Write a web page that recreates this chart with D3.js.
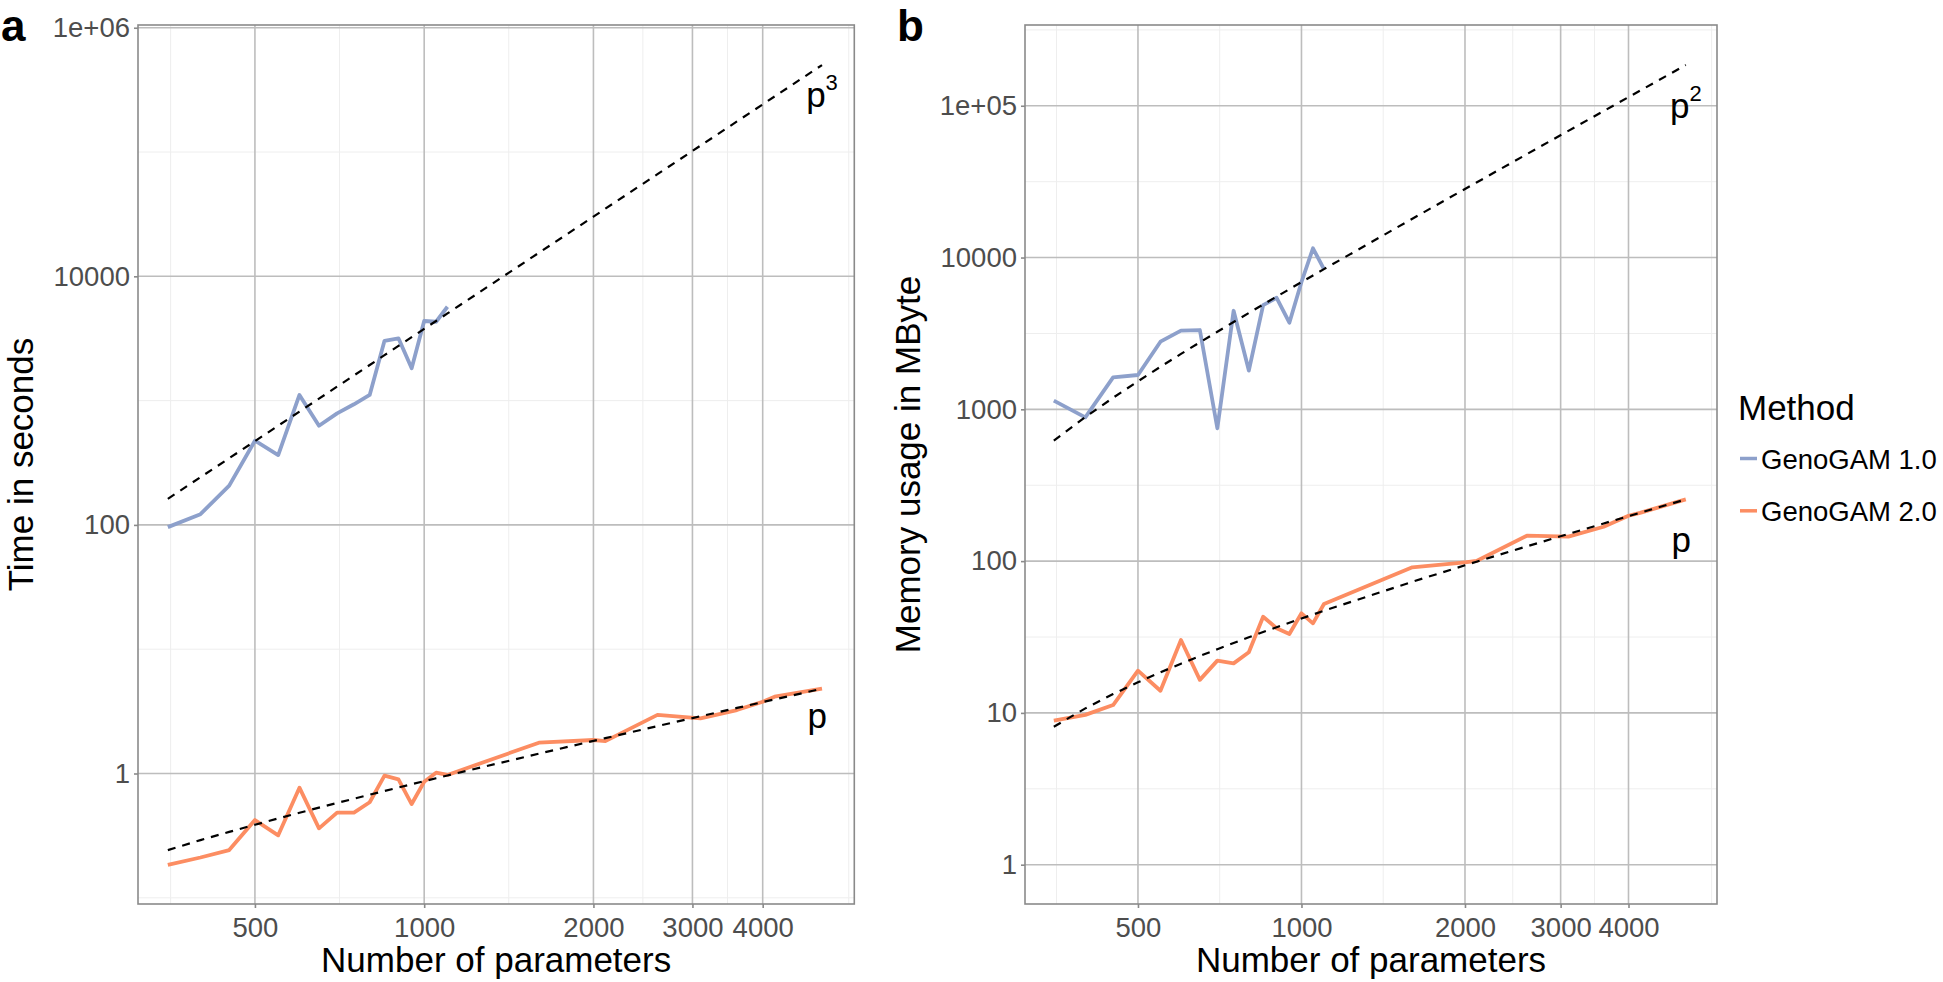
<!DOCTYPE html>
<html>
<head>
<meta charset="utf-8">
<script src="https://cdn.jsdelivr.net/npm/d3@7"></script>
<style>
  body { margin: 0; background: #ffffff; }
  svg { display: block; }
  text { font-family: "Liberation Sans", Arial, Helvetica, sans-serif; }
</style>
</head>
<body>
<svg id="chart" width="1943" height="982"></svg>
<script>
// ---------------- DATA ----------------
const methods = ["GenoGAM 1.0", "GenoGAM 2.0"];
const paramsV1 = [350, 400, 450, 500, 550, 600, 650, 700, 750, 800, 850, 900, 950, 1000, 1050, 1100];
const paramsV2 = [350, 400, 450, 500, 550, 600, 650, 700, 750, 800, 850, 900, 950, 1000, 1050, 1100,
                  1600, 2000, 2100, 2600, 3100, 3600, 4000, 4200, 5100];

// panel a: time in seconds
const timeV1 = [96, 122, 207, 476, 365, 1110, 628, 790, 934, 1110, 3030, 3170, 1820, 4370, 4310, 5690];
const timeV2 = [0.184, 0.211, 0.242, 0.422, 0.318, 0.769, 0.362, 0.484, 0.484, 0.587, 0.960, 0.898, 0.568,
                0.859, 1.015, 0.973, 1.77, 1.86, 1.82, 2.96, 2.78, 3.24, 3.78, 4.15, 4.81];
const timeRefCubic = [162, 242, 344, 472, 628, 816, 1037, 1296, 1593, 1934, 2320, 2753, 3238, 3777, 4372, 5027,
                      15470, 30200, 35000, 66400, 112500, 176200, 241700, 279800, 501000];
const timeRefLinear = [0.242, 0.291, 0.339, 0.387, 0.435, 0.483, 0.531, 0.579, 0.627, 0.675, 0.723, 0.771, 0.820,
                       0.868, 0.916, 0.964, 1.445, 1.829, 1.925, 2.406, 2.887, 3.368, 3.752, 3.945, 4.810];

// panel b: memory usage in MByte
const memV1 = [1140, 885, 1625, 1683, 2790, 3300, 3330, 750, 4460, 1800, 4860, 5430, 3720, 6900, 11500, 8400];
const memV2 = [8.88, 9.7, 11.27, 18.97, 14.0, 30.2, 16.5, 22.1, 21.2, 25.1, 43.0, 36.1, 33.1, 45.3, 38.9, 52.2,
               91.0, 98.2, 100.2, 147, 145, 168.5, 199, 208, 255];
const memRefQuad = [621, 889, 1192, 1531, 1906, 2317, 2763, 3245, 3762, 4315, 4904, 5529, 6189, 6885, 7616, 8384,
                    18020, 28300, 31200, 48000, 68300, 92250, 113950, 125650, 185400];
const memRefLinear = [8.11, 10.71, 13.31, 15.91, 18.51, 21.11, 23.71, 26.30, 28.90, 31.50, 34.10, 36.70, 39.30,
                      41.90, 44.50, 47.09, 73.08, 93.87, 99.07, 125.06, 151.05, 177.04, 197.83, 208.22, 255];

// ticks
const xTicks = [500, 1000, 2000, 3000, 4000];
const xTickLabels = ["500", "1000", "2000", "3000", "4000"];
const xMinor = [354, 707, 1414, 2449, 3464, 5690];
const yTicksA = [1, 100, 10000, 1e6];
const yTickLabelsA = ["1", "100", "10000", "1e+06"];
const yMinorA = [0.1, 10, 1000, 1e5];
const yTicksB = [1, 10, 100, 1000, 10000, 1e5];
const yTickLabelsB = ["1", "10", "100", "1000", "10000", "1e+05"];
const yMinorB = [3.16, 31.6, 316, 3160, 31600, 316000];

// annotation labels [text, superscript, x, y]
const annotA = [["p", "3", 5100, 231000], ["p", "", 5000, 2.32]];
const annotB = [["p", "2", 5100, 82600], ["p", "", 5000, 115]];

const colors = ["#8DA0CB", "#FC8D62"];

// ---------------- DRAW ----------------
const svg = d3.select("#chart");
svg.append("rect").attr("width", 1943).attr("height", 982).attr("fill", "#fff");

const xDomain = [Math.pow(10, 2.491), Math.pow(10, 3.765)];

function drawPanel(cfg) {
  const x = d3.scaleLog().domain(xDomain).range([cfg.left, cfg.right]);
  const y = d3.scaleLog().domain(cfg.yDomain).range([cfg.bottom, cfg.top]);
  const g = svg.append("g");

  // minor grid
  g.selectAll(".xminor").data(xMinor.filter(v => x(v) > cfg.left && x(v) < cfg.right)).enter()
    .append("line").attr("x1", d => x(d)).attr("x2", d => x(d))
    .attr("y1", cfg.top).attr("y2", cfg.bottom).attr("stroke", "#eeeeee").attr("stroke-width", 1);
  g.selectAll(".yminor").data(cfg.yMinor.filter(v => y(v) > cfg.top && y(v) < cfg.bottom)).enter()
    .append("line").attr("y1", d => y(d)).attr("y2", d => y(d))
    .attr("x1", cfg.left).attr("x2", cfg.right).attr("stroke", "#eeeeee").attr("stroke-width", 1);
  // major grid
  g.selectAll(".xmajor").data(xTicks).enter()
    .append("line").attr("x1", d => x(d)).attr("x2", d => x(d))
    .attr("y1", cfg.top).attr("y2", cfg.bottom).attr("stroke", "#bdbdbd").attr("stroke-width", 1.6);
  g.selectAll(".ymajor").data(cfg.yTicks).enter()
    .append("line").attr("y1", d => y(d)).attr("y2", d => y(d))
    .attr("x1", cfg.left).attr("x2", cfg.right).attr("stroke", "#bdbdbd").attr("stroke-width", 1.6);

  // data lines
  const line = d3.line().x(d => x(d[0])).y(d => y(d[1]));
  const s1 = paramsV1.map((p, i) => [p, cfg.v1[i]]);
  const s2 = paramsV2.map((p, i) => [p, cfg.v2[i]]);
  g.append("path").attr("d", line(s1)).attr("fill", "none").attr("stroke", colors[0])
    .attr("stroke-width", 3.8).attr("stroke-linejoin", "round");
  g.append("path").attr("d", line(s2)).attr("fill", "none").attr("stroke", colors[1])
    .attr("stroke-width", 3.8).attr("stroke-linejoin", "round");
  // reference lines
  [cfg.ref1, cfg.ref2].forEach(ref => {
    g.append("path").attr("d", line(paramsV2.map((p, i) => [p, ref[i]])))
      .attr("fill", "none").attr("stroke", "#000").attr("stroke-width", 2.2)
      .attr("stroke-dasharray", "8,7");
  });

  // annotations
  cfg.annot.forEach(a => {
    const t = g.append("text").attr("x", x(a[2])).attr("y", y(a[3]))
      .attr("text-anchor", "middle").attr("font-size", 35).attr("fill", "#000");
    t.append("tspan").text(a[0]);
    if (a[1]) t.append("tspan").attr("font-size", 22).attr("dy", -17).text(a[1]);
  });

  // panel border
  g.append("rect").attr("x", cfg.left).attr("y", cfg.top)
    .attr("width", cfg.right - cfg.left).attr("height", cfg.bottom - cfg.top)
    .attr("fill", "none").attr("stroke", "#8a8a8a").attr("stroke-width", 1.6);

  // axes
  const xAxis = d3.axisBottom(x).tickValues(xTicks).tickFormat((d, i) => xTickLabels[i])
    .tickSize(4).tickPadding(9);
  const gx = g.append("g").attr("transform", `translate(0,${cfg.bottom})`).call(xAxis);
  gx.select(".domain").remove();
  gx.selectAll("line").attr("stroke", "#8a8a8a").attr("stroke-width", 1.6);
  gx.selectAll("text").attr("font-size", 27.5).attr("fill", "#4d4d4d")
    .attr("font-family", "Liberation Sans, Arial, sans-serif");

  const yAxis = d3.axisLeft(y).tickValues(cfg.yTicks).tickFormat((d, i) => cfg.yTickLabels[i])
    .tickSize(4).tickPadding(4);
  const gy = g.append("g").attr("transform", `translate(${cfg.left},0)`).call(yAxis);
  gy.select(".domain").remove();
  gy.selectAll("line").attr("stroke", "#8a8a8a").attr("stroke-width", 1.6);
  gy.selectAll("text").attr("font-size", 27.5).attr("fill", "#4d4d4d")
    .attr("font-family", "Liberation Sans, Arial, sans-serif");

  // axis titles
  g.append("text").attr("x", (cfg.left + cfg.right) / 2).attr("y", 972)
    .attr("text-anchor", "middle").attr("font-size", 35).attr("fill", "#000")
    .text("Number of parameters");
  g.append("text").attr("transform", `translate(${cfg.yTitleX},${(cfg.top + cfg.bottom) / 2}) rotate(-90)`)
    .attr("text-anchor", "middle").attr("font-size", 35).attr("fill", "#000")
    .text(cfg.yTitle);

  // panel tag
  svg.append("text").attr("x", cfg.tagX).attr("y", 41).attr("font-size", 44)
    .attr("font-weight", "bold").attr("fill", "#000").text(cfg.tag);
}

drawPanel({
  left: 138, right: 854.3, top: 25, bottom: 904,
  yDomain: [Math.pow(10, -1.05), Math.pow(10, 6.022)],
  yTicks: yTicksA, yTickLabels: yTickLabelsA, yMinor: yMinorA,
  v1: timeV1, v2: timeV2, ref1: timeRefCubic, ref2: timeRefLinear,
  annot: annotA, yTitle: "Time in seconds", yTitleX: 33, tag: "a", tagX: 1
});

drawPanel({
  left: 1025, right: 1717, top: 25, bottom: 904,
  yDomain: [Math.pow(10, -0.259), Math.pow(10, 5.532)],
  yTicks: yTicksB, yTickLabels: yTickLabelsB, yMinor: yMinorB,
  v1: memV1, v2: memV2, ref1: memRefQuad, ref2: memRefLinear,
  annot: annotB, yTitle: "Memory usage in MByte", yTitleX: 920, tag: "b", tagX: 897
});

// legend
const lg = svg.append("g");
lg.append("text").attr("x", 1738).attr("y", 420).attr("font-size", 35).attr("fill", "#000").text("Method");
methods.forEach((m, i) => {
  const yy = 458.5 + i * 52.3;
  lg.append("line").attr("x1", 1740).attr("x2", 1757).attr("y1", yy).attr("y2", yy)
    .attr("stroke", colors[i]).attr("stroke-width", 3.5);
  lg.append("text").attr("x", 1761).attr("y", yy + 10).attr("font-size", 27.5).attr("fill", "#000").text(m);
});
</script>
</body>
</html>
